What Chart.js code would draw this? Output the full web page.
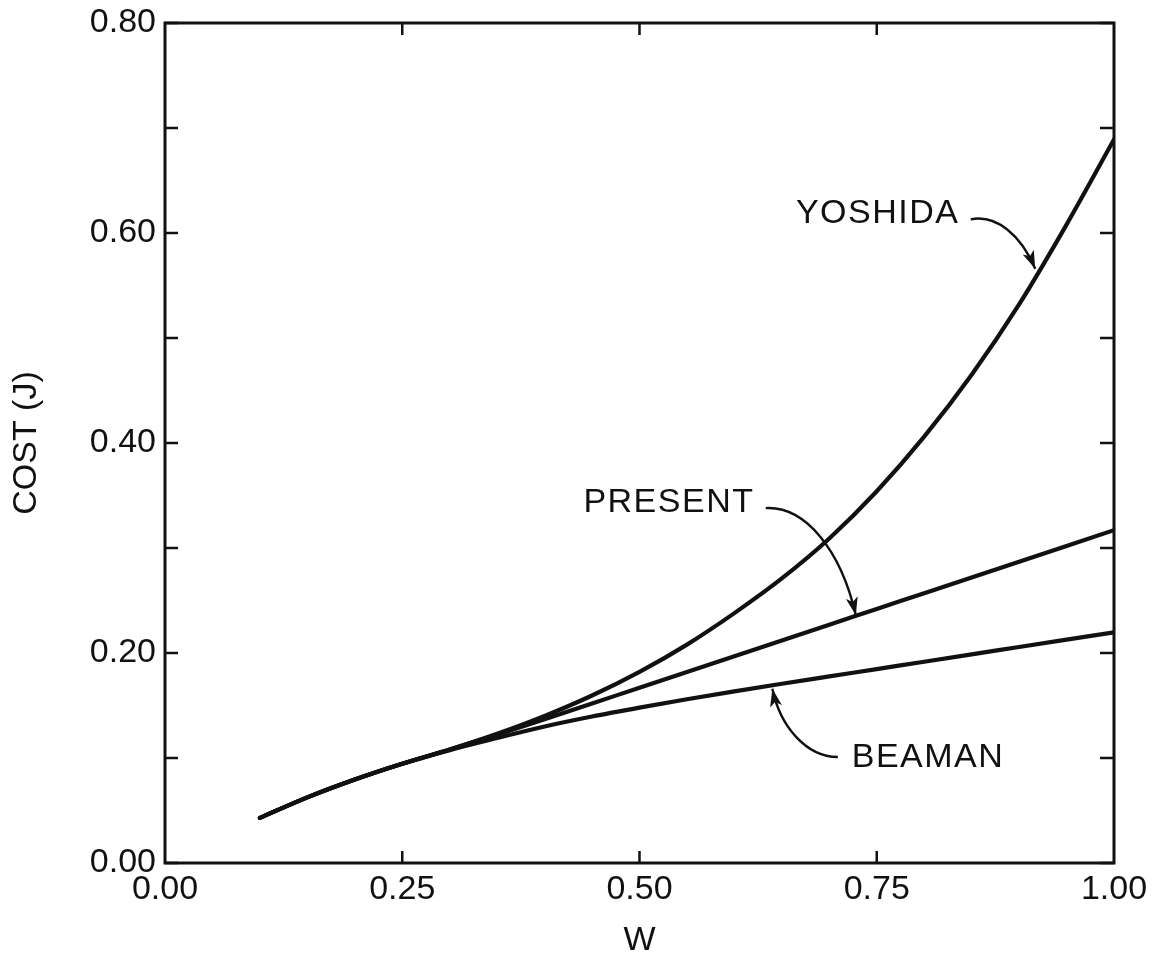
<!DOCTYPE html>
<html><head><meta charset="utf-8">
<script src="https://cdn.jsdelivr.net/npm/chart.js@4.4.0/dist/chart.umd.min.js"></script>
<style>html,body{margin:0;padding:0;background:#fff}#wrap{width:1153px;height:961px;position:relative}</style>
</head><body><div id="wrap"><canvas id="c" width="1153" height="961"></canvas></div>
<script>
// ---- data ----
const wValues = [0.10,0.15,0.20,0.25,0.30,0.35,0.40,0.45,0.50,0.55,0.60,0.65,0.70,0.75,0.80,0.85,0.90,0.95,1.00];
const yoshida = [0.043,0.0625,0.0795,0.0945,0.108,0.123,0.140,0.1595,0.182,0.208,0.238,0.271,0.309,0.354,0.406,0.465,0.532,0.608,0.689];
const present = [0.043,0.0625,0.0795,0.0945,0.108,0.1222,0.1368,0.1518,0.167,0.182,0.197,0.212,0.227,0.242,0.257,0.272,0.287,0.302,0.317];
const beaman  = [0.043,0.0625,0.0795,0.0945,0.1075,0.119,0.130,0.1395,0.148,0.156,0.1635,0.1707,0.1777,0.1847,0.1917,0.1987,0.2057,0.2127,0.2197];
const seriesNames = ['YOSHIDA','PRESENT','BEAMAN'];
const xTicks = [0.00,0.25,0.50,0.75,1.00];
const yTicks = [0.0,0.1,0.2,0.3,0.4,0.5,0.6,0.7,0.8];
const yLabelTicks = [0.0,0.2,0.4,0.6,0.8];
const xTitle = 'W';
const yTitle = 'COST (J)';

// ---- annotation placement (data coordinates) ----
const annotations = [
  {text: seriesNames[0], at:[0.751,0.618], path:[[0.849,0.613],[0.876,0.618],[0.902,0.598],[0.917,0.566]]},
  {text: seriesNames[1], at:[0.531,0.343], path:[[0.633,0.338],[0.675,0.340],[0.712,0.298],[0.728,0.236]]},
  {text: seriesNames[2], at:[0.804,0.100], path:[[0.709,0.101],[0.675,0.101],[0.648,0.131],[0.640,0.166]]}
];

const FONT = '"Liberation Sans", Arial, Helvetica, sans-serif';
const INK = '#111';

const toXY = arr => wValues.map((w,i)=>({x:w,y:arr[i]}));

const framePlugin = {
  id:'frameTicks',
  afterDraw(chart){
    const {ctx, chartArea:a, scales:{x,y}} = chart;
    ctx.save();
    ctx.strokeStyle = INK;
    ctx.lineWidth = 3;
    ctx.lineCap = 'square';
    ctx.strokeRect(a.left, a.top, a.right-a.left, a.bottom-a.top);
    ctx.lineWidth = 2.5;
    ctx.lineCap = 'butt';
    yTicks.forEach(v=>{
      const py = y.getPixelForValue(v);
      ctx.beginPath();
      ctx.moveTo(a.left, py); ctx.lineTo(a.left+13, py);
      ctx.moveTo(a.right, py); ctx.lineTo(a.right-14, py);
      ctx.stroke();
    });
    xTicks.slice(1,-1).forEach(v=>{
      const px = x.getPixelForValue(v);
      ctx.beginPath();
      ctx.moveTo(px, a.bottom); ctx.lineTo(px, a.bottom-12);
      ctx.moveTo(px, a.top); ctx.lineTo(px, a.top+12);
      ctx.stroke();
    });
    // annotations
    ctx.fillStyle = INK;
    ctx.font = '34px ' + FONT;
    ctx.textAlign = 'center';
    ctx.textBaseline = 'middle';
    try { ctx.letterSpacing = '1.5px'; } catch(e) {}
    annotations.forEach(an=>{
      ctx.fillText(an.text, x.getPixelForValue(an.at[0]), y.getPixelForValue(an.at[1]));
      const p = an.path.map(q=>[x.getPixelForValue(q[0]), y.getPixelForValue(q[1])]);
      ctx.lineWidth = 2.4;
      ctx.beginPath();
      ctx.moveTo(p[0][0],p[0][1]);
      ctx.bezierCurveTo(p[1][0],p[1][1],p[2][0],p[2][1],p[3][0],p[3][1]);
      ctx.stroke();
      const ang = Math.atan2(p[3][1]-p[2][1], p[3][0]-p[2][0]);
      const L = 18, W = 6;
      ctx.beginPath();
      ctx.moveTo(p[3][0], p[3][1]);
      ctx.lineTo(p[3][0]-L*Math.cos(ang)+W*Math.sin(ang), p[3][1]-L*Math.sin(ang)-W*Math.cos(ang));
      ctx.lineTo(p[3][0]-L*0.75*Math.cos(ang), p[3][1]-L*0.75*Math.sin(ang));
      ctx.lineTo(p[3][0]-L*Math.cos(ang)-W*Math.sin(ang), p[3][1]-L*Math.sin(ang)+W*Math.cos(ang));
      ctx.closePath();
      ctx.fill();
    });
    ctx.restore();
  }
};

const ds = (label, arr) => ({
  label, data: toXY(arr), borderColor: INK, borderWidth: 4.2,
  pointRadius: 0, fill: false, cubicInterpolationMode: 'monotone', borderCapStyle:'round'
});

new Chart(document.getElementById('c'), {
  type: 'line',
  data: { datasets: [ds(seriesNames[0], yoshida), ds(seriesNames[1], present), ds(seriesNames[2], beaman)] },
  options: {
    responsive: false, animation: false, devicePixelRatio: 1,
    layout: { padding: { top: 23, right: 39, bottom: 0, left: 0 } },
    plugins: { legend: { display: false }, tooltip: { enabled: false } },
    scales: {
      x: {
        type: 'linear', min: 0, max: 1,
        afterBuildTicks: s => { s.ticks = xTicks.map(v=>({value:v})); },
        afterFit: s => { s.height = 98; s.paddingLeft = 0; s.paddingRight = 0; },
        grid: { display: false, drawTicks: false },
        border: { display: false },
        ticks: { color: INK, font: { family: FONT, size: 34 }, padding: 6, maxRotation: 0,
                 callback: v => Number(v).toFixed(2) },
        title: { display: true, text: xTitle, color: INK, font: { family: FONT, size: 34 }, padding: { top: 0, bottom: 0 } }
      },
      y: {
        type: 'linear', min: 0, max: 0.8,
        afterBuildTicks: s => { s.ticks = yLabelTicks.map(v=>({value:v})); },
        afterFit: s => { s.width = 165; s.paddingTop = 0; s.paddingBottom = 0; },
        grid: { display: false, drawTicks: false },
        border: { display: false },
        ticks: { color: INK, font: { family: FONT, size: 34 }, padding: 9,
                 callback: v => Number(v).toFixed(2) },
        title: { display: true, text: yTitle, color: INK, font: { family: FONT, size: 34 }, padding: { top: 6, bottom: 0 } }
      }
    }
  },
  plugins: [framePlugin]
});
</script></body></html>
